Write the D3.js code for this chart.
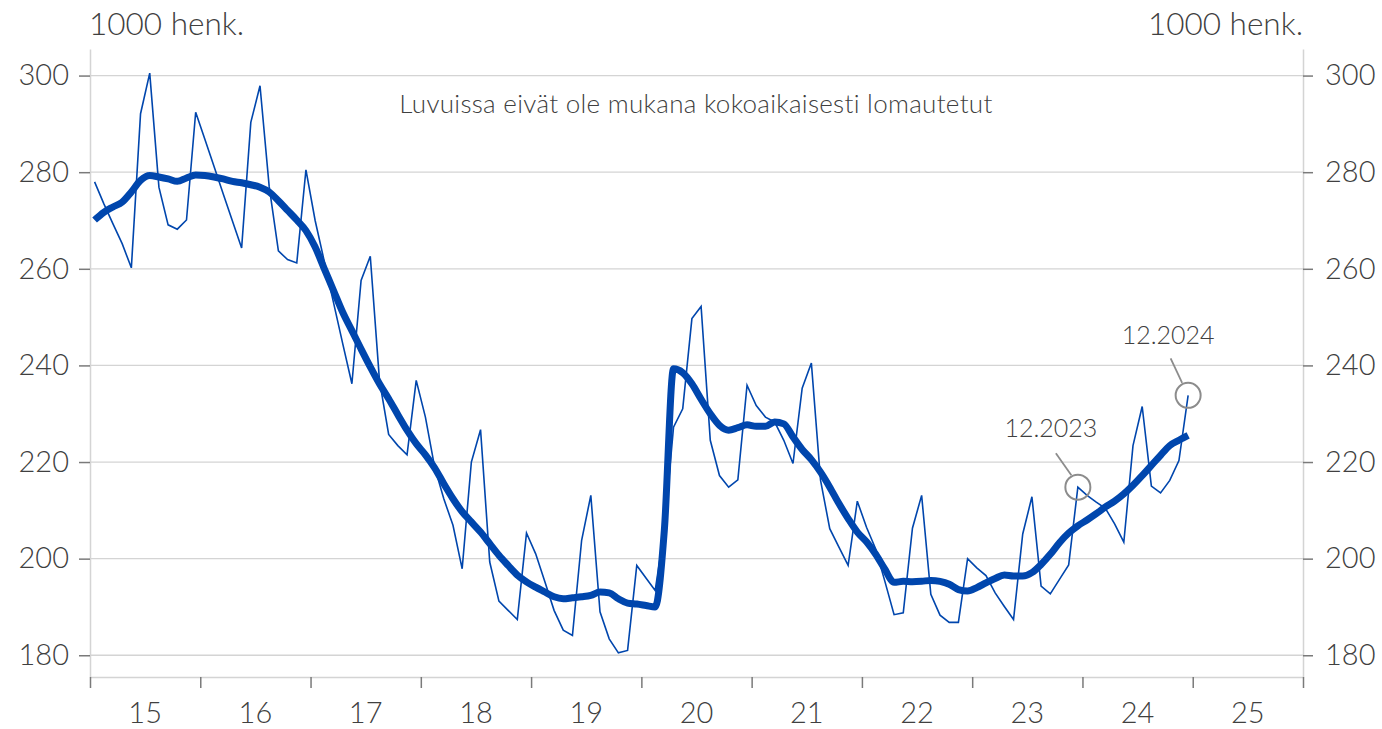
<!DOCTYPE html>
<html>
<head>
<meta charset="utf-8">
<script src="https://cdn.jsdelivr.net/npm/d3@7"></script>
<style>
  body { margin: 0; background: #fff; }
  svg text { font-family: Lato, "Open Sans", sans-serif; font-weight: 300; fill: #404040; }
</style>
</head>
<body>
<div id="chart"></div>
<script>
// Data: monthly values 1/2015 - 12/2024, 1000 persons
var startYear = 2015;
var monthly = [
  278.0, 273.5, 269.3, 265.2, 260.2, 292.1, 300.5, 276.9, 269.1, 268.2, 270.1, 292.4,
  286.8, 281.2, 275.5, 269.9, 264.3, 290.3, 297.9, 277.0, 263.7, 261.9, 261.2, 280.5,
  270.0, 261.5, 253.0, 244.5, 236.2, 257.6, 262.6, 236.9, 225.7, 223.4, 221.5, 236.9,
  229.3, 219.0, 212.4, 206.9, 197.9, 220.0, 226.7, 199.3, 191.2, 189.3, 187.4, 205.3,
  201.0, 195.2, 189.3, 185.2, 184.1, 203.8, 213.1, 189.0, 183.4, 180.5, 181.0, 198.6,
  196.0, 193.4, 206.0, 227.2, 231.0, 249.7, 252.2, 224.5, 217.2, 214.8, 216.3, 235.9,
  231.7, 229.3, 228.3, 224.5, 219.7, 235.3, 240.5, 216.2, 206.2, 202.4, 198.6, 211.9,
  206.5, 202.0, 195.3, 188.4, 188.8, 206.3, 213.1, 192.6, 188.3, 186.8, 186.8, 200.0,
  198.1, 196.5, 192.9, 190.1, 187.4, 205.1, 212.8, 194.3, 192.7, 195.7, 198.7, 214.8,
  213.1, 211.7, 210.4, 207.2, 203.4, 223.4, 231.5, 215.0, 213.6, 216.2, 220.3, 233.8
];
var trend = [
  270.1, 271.7, 272.8, 273.8, 275.9, 278.3, 279.3, 279.0, 278.6, 278.1, 278.8, 279.4,
  279.3, 279.0, 278.6, 278.1, 277.8, 277.4, 276.9, 275.9, 274.1, 272.1, 270.1, 267.9,
  264.5, 260.0, 255.5, 251.0, 247.2, 243.4, 239.7, 236.2, 233.1, 229.8, 226.6, 223.8,
  221.5, 218.8, 215.5, 212.4, 209.7, 207.6, 205.5, 203.1, 200.7, 198.6, 196.6, 195.2,
  194.1, 193.1, 192.1, 191.7, 191.9, 192.1, 192.4, 193.1, 192.9, 191.7, 190.8, 190.6,
  190.3, 190.0, 205.9, 239.3, 238.5, 236.2, 233.0, 230.0, 227.6, 226.6, 227.1, 227.7,
  227.4, 227.4, 228.3, 227.9, 225.2, 222.6, 220.5, 217.9, 214.8, 211.4, 208.3, 205.5,
  203.5, 200.9, 197.8, 195.1, 195.3, 195.2, 195.3, 195.5, 195.3, 194.7, 193.6, 193.3,
  194.0, 195.0, 195.9, 196.6, 196.4, 196.4, 197.1, 198.8, 200.9, 203.3, 205.3, 206.8,
  208.0, 209.3, 210.7, 211.9, 213.4, 215.2, 217.2, 219.3, 221.4, 223.4, 224.5, 225.5
];
var yearLabels = ['15', '16', '17', '18', '19', '20', '21', '22', '23', '24', '25'];
var yTicks = [180, 200, 220, 240, 260, 280, 300];
var unitLabel = '1000 henk.';
var note = 'Luvuissa eivät ole mukana kokoaikaisesti lomautetut';
var marked = [107, 119];
var markedLabels = ['12.2023', '12.2024'];

var svgW = 1382, svgH = 729;
var blue = '#0046ad';

var svg = d3.select('#chart').append('svg')
  .attr('width', svgW)
  .attr('height', svgH);

// Scales (x in months from 1/2015)
var x = d3.scaleLinear().domain([0, yearLabels.length * 12]).range([90, 1303]);
var y = d3.scaleLinear().domain([175.5, 305.5]).range([677, 49]);

// Gridlines
svg.append('g').selectAll('line')
  .data(yTicks)
  .enter().append('line')
  .attr('x1', x.range()[0]).attr('x2', x.range()[1])
  .attr('y1', d => y(d)).attr('y2', d => y(d))
  .attr('stroke', '#d4d4d4').attr('stroke-width', 1.3);

// Left axis
var yAxisL = svg.append('g')
  .attr('transform', 'translate(' + x.range()[0] + ',0)')
  .call(d3.axisLeft(y).tickValues(yTicks).tickSize(11).tickSizeOuter(0).tickPadding(10));
// Right axis
var yAxisR = svg.append('g')
  .attr('transform', 'translate(' + x.range()[1] + ',0)')
  .call(d3.axisRight(y).tickValues(yTicks).tickSize(10).tickSizeOuter(0).tickPadding(12));
// Bottom axis (year boundaries)
var xAxis = svg.append('g')
  .attr('transform', 'translate(0,' + y.range()[0] + ')')
  .call(d3.axisBottom(x).tickValues(d3.range(0, yearLabels.length * 12 + 1, 12))
    .tickFormat('').tickSize(11).tickSizeOuter(0));

[yAxisL, yAxisR, xAxis].forEach(function (a) {
  a.select('.domain').attr('stroke', '#d4d4d4').attr('stroke-width', 1.5);
  a.selectAll('.tick line').attr('stroke', '#7a7a7a').attr('stroke-width', 1.5);
  a.selectAll('.tick text').style('font-size', '29px').attr('fill', '#404040');
});

// Year labels centered in each year
svg.append('g').selectAll('text')
  .data(yearLabels)
  .enter().append('text')
  .attr('x', (d, i) => x(i * 12 + 6))
  .attr('y', 723)
  .attr('text-anchor', 'middle')
  .style('font-size', '29px')
  .text(d => d);

// Unit labels
svg.append('text').attr('x', 89).attr('y', 35).style('font-size', '31.5px').text(unitLabel);
svg.append('text').attr('x', 1303).attr('y', 35).attr('text-anchor', 'end')
  .style('font-size', '31.5px').text(unitLabel);

// Note
svg.append('text').attr('x', 696).attr('y', 113).attr('text-anchor', 'middle')
  .style('font-size', '26px').style('letter-spacing', '0.3px').text(note);

// Lines
var line = d3.line()
  .x((d, i) => x(i + 0.5))
  .y(d => y(d));

svg.append('path')
  .datum(monthly)
  .attr('d', line)
  .attr('fill', 'none')
  .attr('stroke', blue)
  .attr('stroke-width', 1.6)
  .attr('stroke-linejoin', 'miter');

svg.append('path')
  .datum(trend)
  .attr('d', line.curve(d3.curveMonotoneX))
  .attr('fill', 'none')
  .attr('stroke', blue)
  .attr('stroke-width', 7)
  .attr('stroke-linejoin', 'round');

// Marked points
var offsets = [{ tx: -27, ty: -50, lx1: -22, ly1: -34, lx2: -6.5, ly2: -12 },
               { tx: -20, ty: -51, lx1: -17.5, ly1: -37, lx2: -6, ly2: -12.5 }];
marked.forEach(function (m, k) {
  var cx = x(m + 0.5), cy = y(monthly[m]), o = offsets[k];
  svg.append('circle').attr('cx', cx).attr('cy', cy).attr('r', 12.5)
    .attr('fill', 'none').attr('stroke', '#8c8c8c').attr('stroke-width', 2);
  svg.append('line')
    .attr('x1', cx + o.lx1).attr('y1', cy + o.ly1)
    .attr('x2', cx + o.lx2).attr('y2', cy + o.ly2)
    .attr('stroke', '#8c8c8c').attr('stroke-width', 1.8);
  svg.append('text').attr('x', cx + o.tx).attr('y', cy + o.ty)
    .attr('text-anchor', 'middle').style('font-size', '25px')
    .text(markedLabels[k]);
});
</script>
</body>
</html>
